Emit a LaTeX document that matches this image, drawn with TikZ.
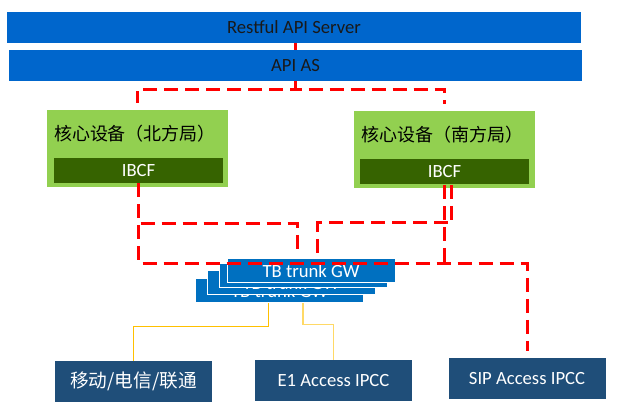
\documentclass[tikz,border=0pt]{standalone}
\usepackage{fontspec}
\setmainfont{Carlito}
\newfontfamily\cjk{Noto Sans CJK SC}
\definecolor{barblue}{HTML}{0066CC}
\definecolor{gwblue}{HTML}{0070C0}
\definecolor{coregreen}{HTML}{92D050}
\definecolor{ibcfgreen}{HTML}{366300}
\definecolor{accessblue}{HTML}{1F4E79}
\definecolor{trunkgold}{HTML}{FFC000}
\definecolor{trunklight}{HTML}{FFD966}

\begin{document}
\begin{tikzpicture}[x=0.75pt, y=-0.75pt,
    bar/.style={fill=barblue, inner sep=0pt, minimum width=430.5pt, minimum height=23.25pt,
        text=black!90, font=\fontsize{14}{16}\selectfont},
    core/.style={fill=coregreen, inner sep=0pt, minimum width=135.75pt, minimum height=57.75pt},
    coretitle/.style={inner sep=0pt, text=black, font=\fontsize{13.5}{16}\selectfont},
    ibcf/.style={fill=ibcfgreen, inner sep=0pt, minimum width=126.75pt, minimum height=18.75pt,
        text=white, font=\fontsize{14}{16}\selectfont},
    gw/.style={fill=gwblue, draw=white, line width=0.75pt, inner sep=0pt, minimum width=126pt,
        minimum height=18pt, text=white, font=\fontsize{14}{16}\selectfont},
    access/.style={fill=accessblue, inner sep=0pt, minimum width=117.75pt, minimum height=30.75pt,
        text=white, font=\fontsize{14}{16}\selectfont},
    redlink/.style={red, line width=2.25pt, dash pattern=on 10.5pt off 5.25pt},
    trunk/.style={line width=0.75pt}]
    \useasboundingbox (0,0) rectangle (629,413);

    % API layer
    \node[bar] (restful) at (294,27.5) {Restful API Server};
    \node[bar, minimum width=429.75pt] (apias) at (295.5,65.5) {API AS};

    % north office
    \node[core] (coreN) at (137.5,148.5) {};
    \node[coretitle] (titleN) at (135,134) {\cjk 核心设备（北方局）};
    \node[ibcf] (ibcfL) at (138.5,170.5) {IBCF};

    % south office
    \node[core] (coreS) at (444.5,149.5) {};
    \node[coretitle] (titleS) at (442,135) {\cjk 核心设备（南方局）};
    \node[ibcf] (ibcfR) at (444.5,172) {IBCF};

    % trunk gateways, back to front
    \node[gw] (tb4) at (279.5,291) {TB trunk GW};
    \node[gw] (tb3) at (291,283) {TB trunk GW};
    \node[gw] (tb2) at (303,276) {TB trunk GW};
    \node[gw] (tb1) at (311,271) {TB trunk GW};

    % access side
    \node[access] (mob) at (133.5,381.5) {\cjk 移动/电信/联通};
    \node[access] (e1) at (333.5,380.5) {E1 Access IPCC};
    \node[access] (sip) at (527,378.5) {SIP Access IPCC};

    % SIP links
    \draw[redlink] (restful.south -| apias.north) -- (apias.north);
    \draw[redlink, shorten >=5.25pt] (apias.south) -- ++(0,8) -| (coreN.north);
    \draw[redlink, shorten >=5.25pt] (apias.south) -- ++(0,8) -| (coreS.north);
    \draw[redlink, shorten >=6.75pt] (ibcfL.south) -- ++(0,40) -| ([xshift=-10.5pt]tb1.north);
    \draw[redlink] ([xshift=5.6pt]ibcfR.south) -- ++(0,38) -| ([xshift=4.5pt]tb1.north);
    \draw[redlink, shorten >=5.25pt] (ibcfL.south) -- ++(0,80) -| (sip.north);
    \draw[redlink] (ibcfR.south) -- ++(0,78);

    % trunk lines
    \draw[trunk, trunkgold] ([xshift=-8.6pt]tb4.south) -- ++(0,23) -| (mob.north);
    \draw[trunk, trunklight, line width=1.1pt] ([xshift=17.6pt]tb4.south) -- ++(0,21) -| (e1.north);
\end{tikzpicture}
\end{document}
